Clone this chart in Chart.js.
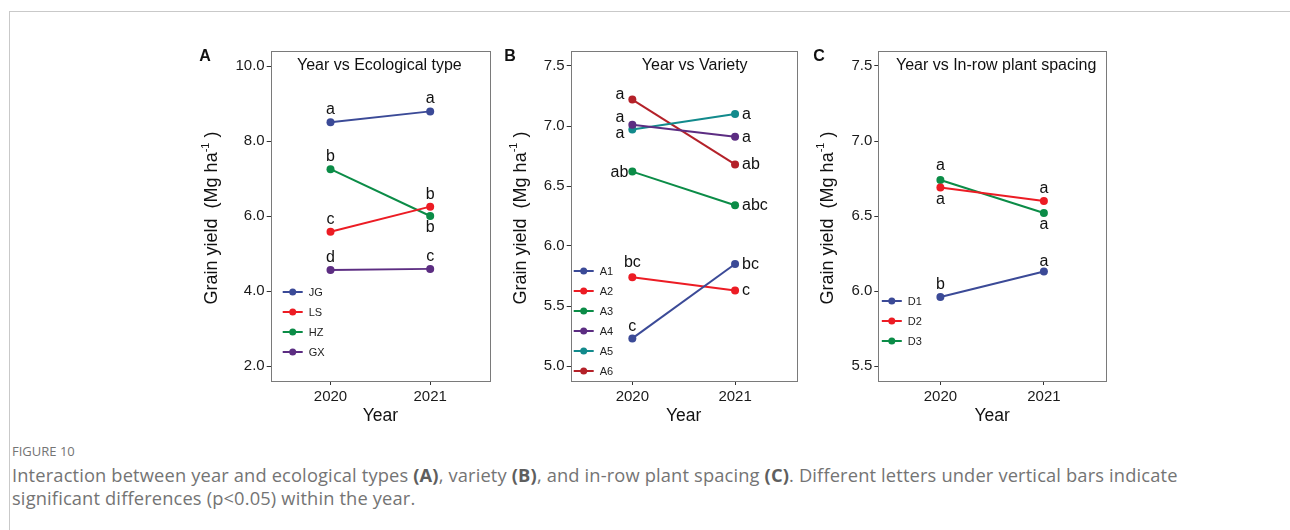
<!DOCTYPE html>
<html>
<head>
<meta charset="utf-8">
<script src="https://cdn.jsdelivr.net/npm/chart.js@4.4.1/dist/chart.umd.min.js"></script>
<style>
  body { margin: 0; background: #fff; }
  #page { position: relative; width: 1290px; height: 530px; overflow: hidden; background: #fff; }
  #frame { position: absolute; left: 9px; top: 11px; right: 0; bottom: 0;
           border-top: 1px solid #c9c9c9; border-left: 1px solid #c9c9c9; }
  canvas.panel { position: absolute; top: 40px; }
  #caption { position: absolute; left: 12px; top: 442px; font-family: "Open Sans", sans-serif; color: #747474; }
  #caption .fig { font-size: 13px; line-height: 18px; }
  #caption .txt { margin-top: 3px; font-size: 18.3px; line-height: 23px; letter-spacing: 0.15px; }
  #caption b { font-weight: 700; color: #5e5e5e; }
</style>
</head>
<body>
<div id="page">
  <div id="frame"></div>
  <canvas id="panelA" class="panel" width="310" height="390" style="left:190px"></canvas>
  <canvas id="panelB" class="panel" width="310" height="390" style="left:500px"></canvas>
  <canvas id="panelC" class="panel" width="310" height="390" style="left:810px"></canvas>
  <div id="caption">
    <div class="fig">FIGURE 10</div>
    <div class="txt">Interaction between year and ecological types <b>(A)</b>, variety <b>(B)</b>, and in-row plant spacing <b>(C)</b>. Different letters under vertical bars indicate<br>significant differences (p&lt;0.05) within the year.</div>
  </div>
</div>
<script>
const years = [2020, 2021];

// A: ecological types
const ecoTypes = ["JG", "LS", "HZ", "GX"];
const ecoYield = [[8.50, 8.79], [5.58, 6.25], [7.25, 6.00], [4.56, 4.59]];
const ecoLetters = [["a", "a"], ["c", "b"], ["b", "b"], ["d", "c"]];
const ecoTicks = [2.0, 4.0, 6.0, 8.0, 10.0];

// B: varieties
const varieties = ["A1", "A2", "A3", "A4", "A5", "A6"];
const varYield = [[5.23, 5.85], [5.74, 5.63], [6.62, 6.34], [7.01, 6.91], [6.97, 7.10], [7.22, 6.68]];
const varLetters = [["c", "bc"], ["bc", "c"], ["ab", "abc"], ["a", "a"], ["a", "a"], ["a", "ab"]];
const varTicks = [5.0, 5.5, 6.0, 6.5, 7.0, 7.5];

// C: in-row plant spacing
const spacings = ["D1", "D2", "D3"];
const spacingYield = [[5.96, 6.13], [6.69, 6.60], [6.74, 6.52]];
const spacingLetters = [["b", "a"], ["a", "a"], ["a", "a"]];
const spacingTicks = [5.5, 6.0, 6.5, 7.0, 7.5];

const FONT = "'Liberation Sans', Arial, sans-serif";
Chart.defaults.font.family = FONT;

const BLUE = "#3b4a97", RED = "#ec1c24", GREEN = "#0b8c47",
      PURPLE = "#5c2d82", TEAL = "#128a8c", DARKRED = "#b42129";

// letter placement: [dx, dy (baseline), align]
const UP = [0, -8, "center"], DOWN = [0, 16, "center"], RIGHT = [7, 5, "left"];
const Y_AXIS_W = 40;

function drawYTitle(ctx, x, y) {
  ctx.save();
  ctx.translate(x, y);
  ctx.rotate(-Math.PI / 2);
  const big = "18px " + FONT, small = "11px " + FONT;
  const main = "Grain yield  (Mg ha", sup = "-1", close = " )";
  ctx.font = big;
  const w1 = ctx.measureText(main).width, w3 = ctx.measureText(close).width;
  ctx.font = small;
  const w2 = ctx.measureText(sup).width;
  let cx = -(w1 + w2 + w3) / 2;
  ctx.fillStyle = "#111";
  ctx.textBaseline = "middle";
  ctx.textAlign = "left";
  ctx.font = big; ctx.fillText(main, cx, 0); cx += w1;
  ctx.font = small; ctx.fillText(sup, cx, -7); cx += w2;
  ctx.font = big; ctx.fillText(close, cx, 0);
  ctx.restore();
}

// panel box, letters, titles and in-panel legend
function decor(p) {
  return {
    id: "decor" + p.tag,
    afterDraw(chart) {
      const { ctx, chartArea: a } = chart;
      ctx.save();
      ctx.strokeStyle = "#7a7a7a";
      ctx.lineWidth = 1;
      ctx.strokeRect(Math.round(a.left) + 0.5, Math.round(a.top) + 0.5,
                     Math.round(a.right - a.left), Math.round(a.bottom - a.top));

      // significance letters
      ctx.fillStyle = "#111";
      ctx.font = "16px " + FONT;
      ctx.textBaseline = "alphabetic";
      chart.data.datasets.forEach((ds, i) => {
        chart.getDatasetMeta(i).data.forEach((pt, j) => {
          const [dx, dy, align] = p.places[i][j];
          ctx.textAlign = align;
          ctx.fillText(p.letters[i][j], pt.x + dx, pt.y + dy);
        });
      });

      // panel tag and title
      ctx.font = "bold 16px " + FONT;
      ctx.textAlign = "center";
      ctx.fillText(p.tag, p.tagX, 21);
      ctx.font = "16px " + FONT;
      ctx.fillText(p.title, (a.left + a.right) / 2 + p.titleDx, 30);

      drawYTitle(ctx, p.yTitleX, (a.top + a.bottom) / 2 + 2);

      // legend: line with dot, label on the right
      ctx.font = "11px " + FONT;
      ctx.textAlign = "left";
      ctx.textBaseline = "middle";
      chart.data.datasets.forEach((ds, i) => {
        const lx = a.left + p.legendX, ly = a.top + p.legendY + i * 20;
        ctx.strokeStyle = ds.borderColor;
        ctx.lineWidth = 2;
        ctx.beginPath();
        ctx.moveTo(lx, ly); ctx.lineTo(lx + 20, ly);
        ctx.stroke();
        ctx.fillStyle = ds.borderColor;
        ctx.beginPath();
        ctx.arc(lx + 10, ly, 3.5, 0, Math.PI * 2);
        ctx.fill();
        ctx.fillStyle = "#222";
        ctx.fillText(ds.label, lx + 26, ly + 0.5);
      });
      ctx.restore();
    }
  };
}

function makePanel(id, p) {
  const datasets = p.names.map((name, i) => ({
    label: name,
    data: years.map((yr, j) => ({ x: yr, y: p.values[i][j] })),
    borderColor: p.colors[i],
    backgroundColor: p.colors[i],
    borderWidth: 2,
    pointRadius: 4,
    pointBorderWidth: 0,
    pointHoverRadius: 4
  }));
  return new Chart(document.getElementById(id), {
    type: "line",
    data: { datasets },
    options: {
      responsive: false,
      animation: false,
      events: [],
      layout: { padding: { left: p.left - Y_AXIS_W, top: 10, right: 310 - p.right, bottom: 0 } },
      plugins: { legend: { display: false }, tooltip: { enabled: false } },
      scales: {
        x: {
          type: "linear",
          min: 2019.4,
          max: 2021.6,
          afterBuildTicks: s => { s.ticks = years.map(v => ({ value: v })); },
          afterFit: s => { s.height = 49; },
          ticks: { callback: v => String(v), color: "#1a1a1a", font: { size: 15 }, padding: 3, maxRotation: 0 },
          grid: { drawOnChartArea: false, tickLength: 4, color: "#333" },
          border: { display: false },
          title: { display: true, text: "Year", color: "#111", font: { size: 17.5 }, padding: { top: 0, bottom: 3 } }
        },
        y: {
          min: p.yMin,
          max: p.yMax,
          afterBuildTicks: s => { s.ticks = p.ticks.map(v => ({ value: v })); },
          afterFit: s => { s.width = Y_AXIS_W; },
          ticks: { callback: v => v.toFixed(1), color: "#1a1a1a", font: { size: 15 }, padding: 2 },
          grid: { drawOnChartArea: false, tickLength: 4, color: "#333" },
          border: { display: false }
        }
      }
    },
    plugins: [decor(p)]
  });
}

makePanel("panelA", {
  tag: "A", tagX: 15, title: "Year vs Ecological type", titleDx: -1, yTitleX: 22.5,
  names: ecoTypes, values: ecoYield, letters: ecoLetters, ticks: ecoTicks,
  colors: [BLUE, RED, GREEN, PURPLE],
  places: [[UP, UP], [UP, UP], [UP, DOWN], [UP, UP]],
  yMin: 1.6, yMax: 10.4, left: 80.7, right: 300,
  legendX: 12, legendY: 241
});

makePanel("panelB", {
  tag: "B", tagX: 10, title: "Year vs Variety", titleDx: 11, yTitleX: 20.7,
  names: varieties, values: varYield, letters: varLetters, ticks: varTicks,
  colors: [BLUE, RED, GREEN, PURPLE, TEAL, DARKRED],
  places: [[[0, -7, "center"], RIGHT], [[0, -10, "center"], RIGHT], [[-4, 5, "right"], RIGHT],
           [[-8, -3, "right"], RIGHT], [[-8, 8, "right"], RIGHT], [[-8, -1, "right"], RIGHT]],
  yMin: 4.875, yMax: 7.625, left: 70.7, right: 296.7,
  legendX: 3, legendY: 220
});

makePanel("panelC", {
  tag: "C", tagX: 9, title: "Year vs In-row plant spacing", titleDx: 4, yTitleX: 18.3,
  names: spacings, values: spacingYield, letters: spacingLetters, ticks: spacingTicks,
  colors: [BLUE, RED, GREEN],
  places: [[UP, [0, -6, "center"]], [DOWN, UP], [[0, -10, "center"], DOWN]],
  yMin: 5.4, yMax: 7.6, left: 68.3, right: 296,
  legendX: 3.5, legendY: 250
});
</script>
</body>
</html>
